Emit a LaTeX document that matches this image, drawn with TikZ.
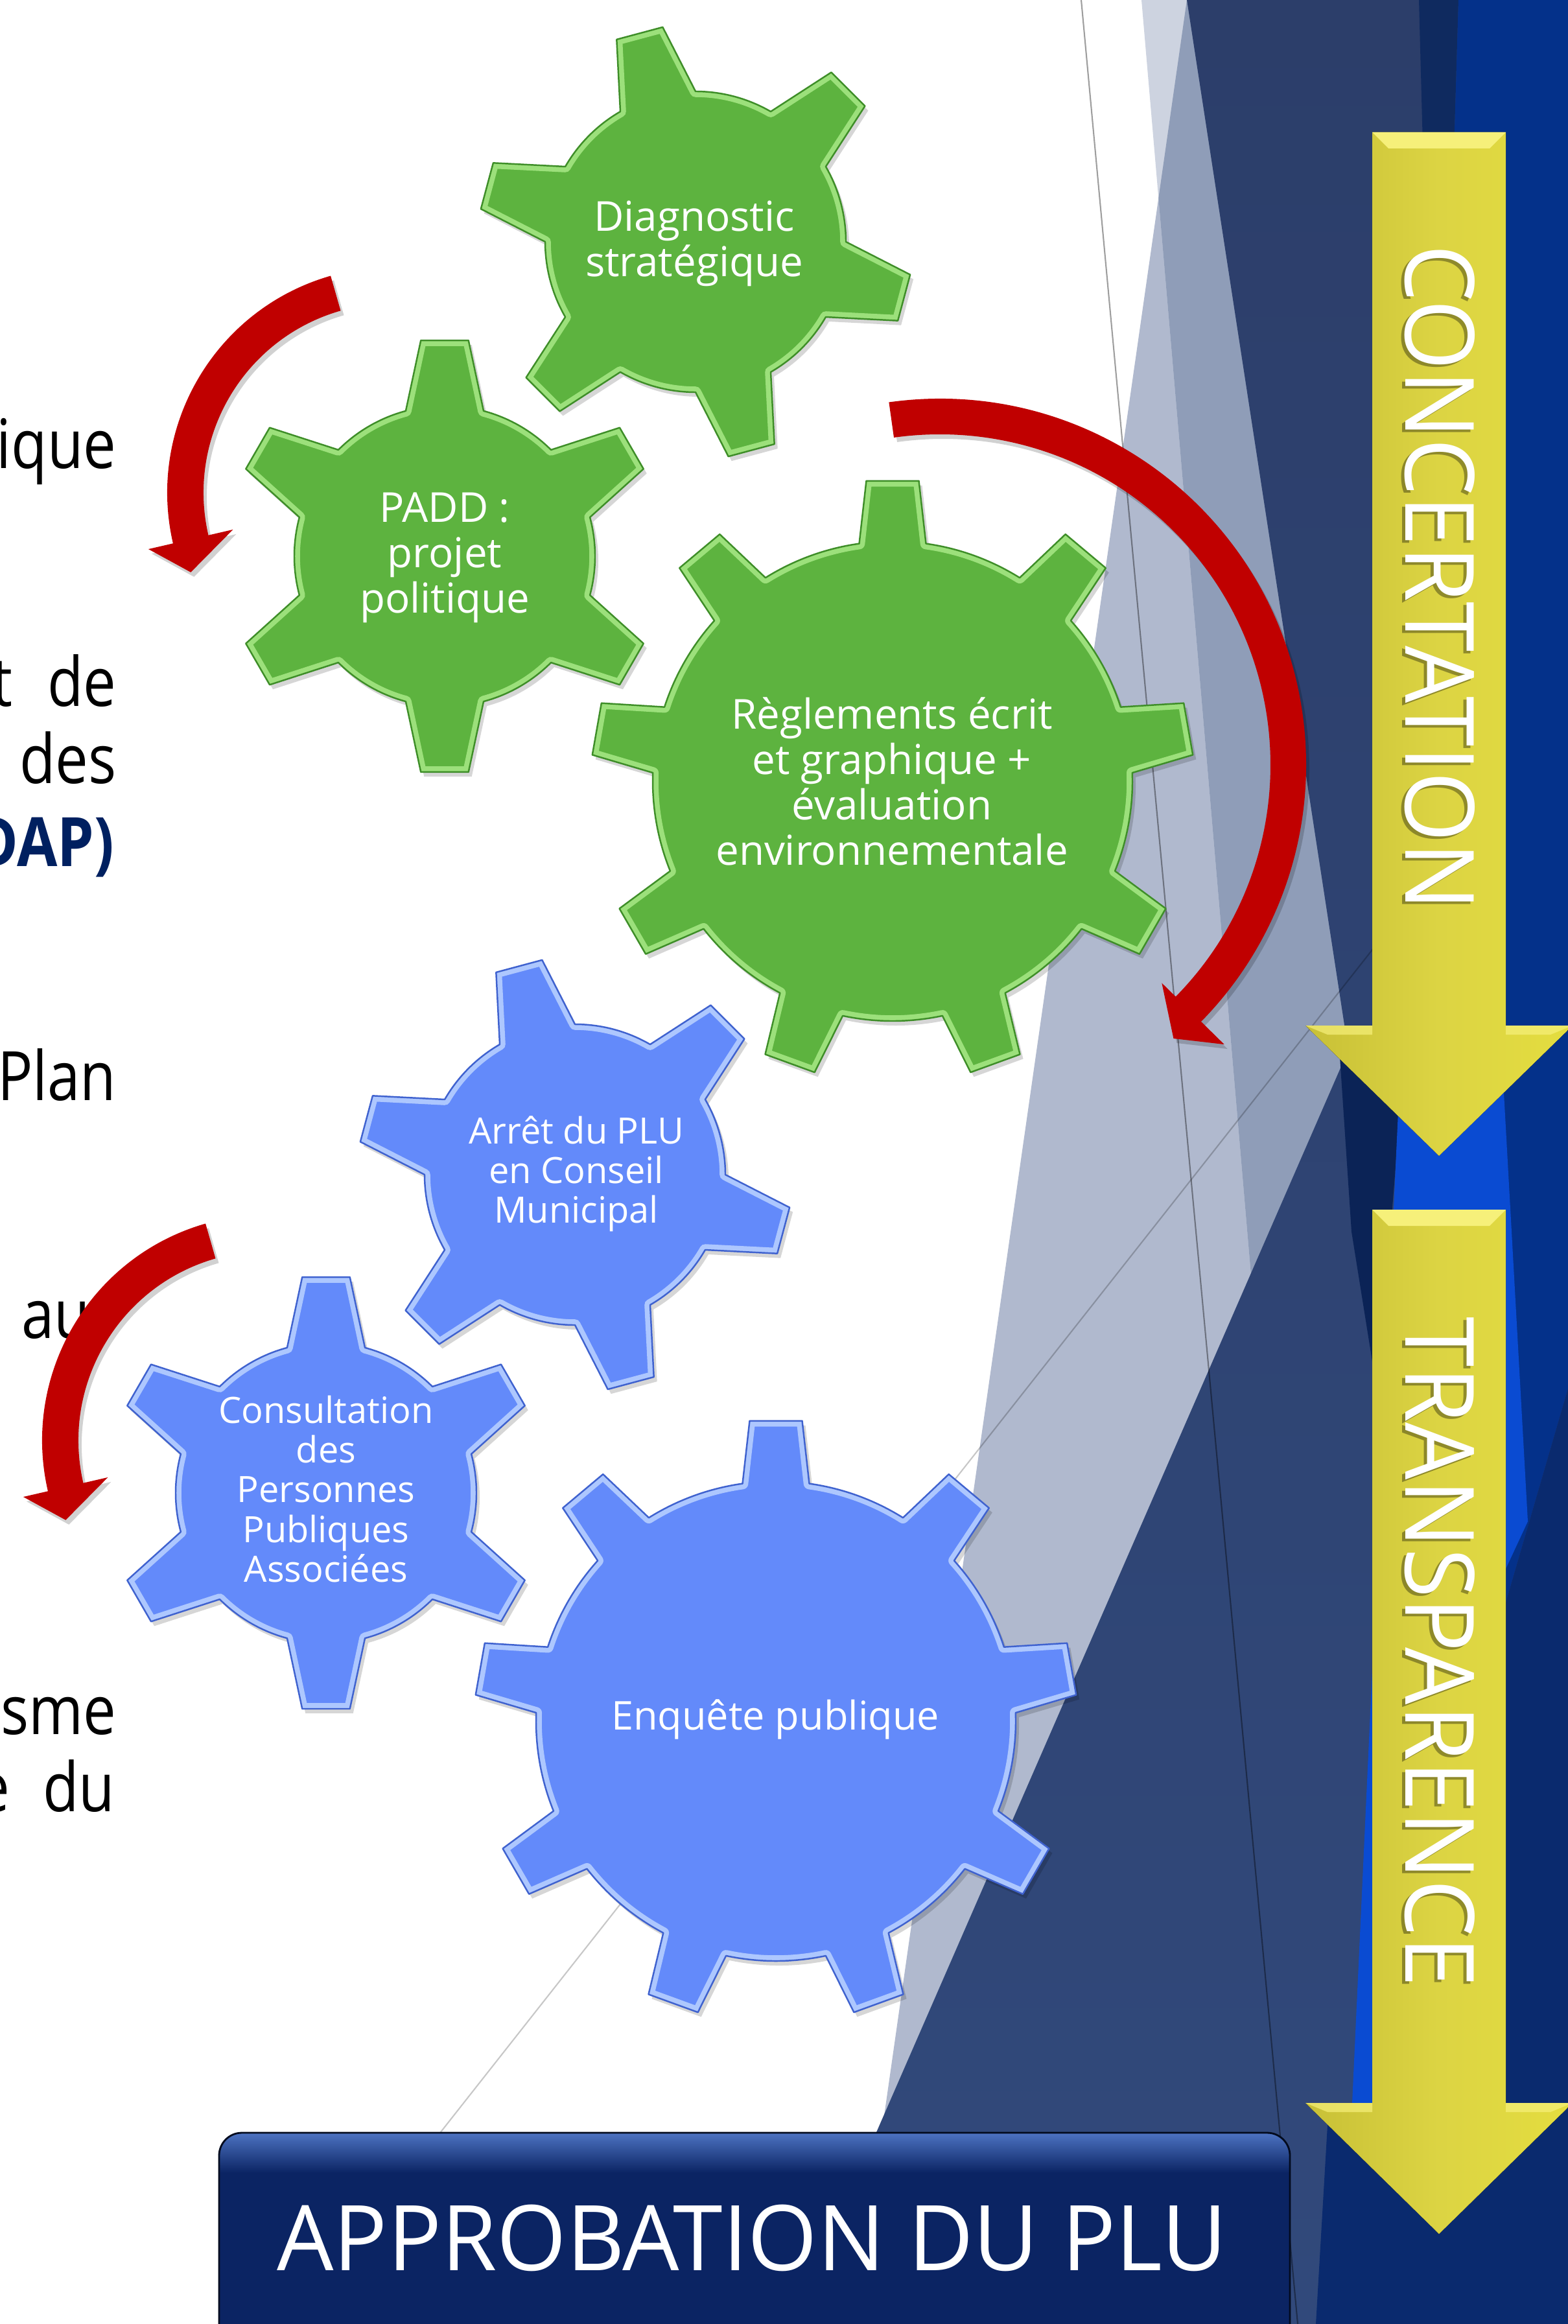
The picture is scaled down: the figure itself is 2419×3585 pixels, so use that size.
\documentclass[tikz,border=0pt]{standalone}
\usepackage{fontspec}
\setmainfont{Open Sans}
\usetikzlibrary{calc}

% palette
\definecolor{bgA}{HTML}{B0B9CE}
\definecolor{bgB}{HTML}{CDD3E0}
\definecolor{bgAB}{HTML}{8F9DB8}
\definecolor{navyTop}{HTML}{2C3E6A}
\definecolor{navyLow}{HTML}{31497B}
\definecolor{stripDark}{HTML}{0F2A5F}
\definecolor{blueR}{HTML}{04318A}
\definecolor{navyDeep}{HTML}{0B2356}
\definecolor{blueBright}{HTML}{0A4BD2}
\definecolor{blueLow}{HTML}{0A2A6E}
\definecolor{greenFill}{HTML}{5DB33F}
\definecolor{greenRim}{HTML}{A8E886}
\definecolor{greenEdge}{HTML}{3E8E28}
\definecolor{blueFill}{HTML}{638AFA}
\definecolor{blueRim}{HTML}{BBD2FF}
\definecolor{blueEdge}{HTML}{3F62CF}
\definecolor{arrowRed}{HTML}{C00000}
\definecolor{yelMid}{HTML}{DCD443}
\definecolor{yelLeft}{HTML}{C8C036}
\definecolor{yelRight}{HTML}{E4DD3F}
\definecolor{yelHi}{HTML}{F6F07A}
\definecolor{titleNavy}{HTML}{0B2463}
\definecolor{titleHi}{HTML}{4D73C2}
\definecolor{textNavy}{HTML}{002060}

% outline of a gear: centre, teeth, offset angle, body radius, tip radius,
% half angle of a tooth at its root, half angle at its tip
\newcommand{\gearoutline}[8]{%
  ([shift={(#1,#2)}]#4+#7:#5)
  \foreach \gk [evaluate=\gk as \gA using #4+360*(\gk-1)/#3,
                evaluate=\gk as \gB using #4+360*\gk/#3] in {1,...,#3}{
    arc[start angle=\gA+#7, end angle=\gB-#7, radius=#5]
    -- ([shift={(#1,#2)}]\gB-#8:#6)
    -- ([shift={(#1,#2)}]\gB+#8:#6)
    -- ([shift={(#1,#2)}]\gB+#7:#5)
  } -- cycle}

\newcommand{\drawgear}[9]{%
  \begin{scope}[shift={(5,7)}]
    \fill[gearshadow] \gearoutline{#1}{#2}{#3}{#4}{#5}{#6}{#7}{#8};
  \end{scope}
  \fill[#9fill] \gearoutline{#1}{#2}{#3}{#4}{#5}{#6}{#7}{#8};
  \begin{scope}
    \clip \gearoutline{#1}{#2}{#3}{#4}{#5}{#6}{#7}{#8};
    \draw[#9rim] \gearoutline{#1}{#2}{#3}{#4}{#5}{#6}{#7}{#8};
  \end{scope}
  \draw[#9edge] \gearoutline{#1}{#2}{#3}{#4}{#5}{#6}{#7}{#8};
}
\newcommand{\smallgear}[4]{\drawgear{#1}{#2}{6}{#3}{232}{335}{15}{6.3}{#4}}
\newcommand{\biggear}[4]{\drawgear{#1}{#2}{9}{#3}{370}{465}{8}{5}{#4}}

% curved red arrows
\newcommand{\arrowonepath}{%
  ([shift={(606,760)}]-106:348) arc[start angle=-106, end angle=-193, radius=348]
  -- ([shift={(606,760)}]-193:387) -- ([shift={(606,760)}]-201.5:335)
  -- ([shift={(606,760)}]-193:253) -- ([shift={(606,760)}]-193:292)
  arc[start angle=-193, end angle=-106, radius=292] -- cycle}
\newcommand{\arrowtwopath}{%
  ([shift={(1450,1180)}]-98:565) arc[start angle=-98, end angle=44.5, radius=565]
  -- ([shift={(1450,1180)}]44.5:615) -- ([shift={(1450,1180)}]49.5:555)
  -- ([shift={(1450,1180)}]44.5:480) -- ([shift={(1450,1180)}]44.5:510)
  arc[start angle=44.5, end angle=-98, radius=510] -- cycle}

\tikzset{
  gearshadow/.style={fill=black, opacity=0.16},
  greenfill/.style={fill=greenFill},
  greenrim/.style={draw=greenRim, line width=5pt, opacity=0.85, line join=round},
  greenedge/.style={draw=greenEdge, line width=0.7pt, line join=round},
  bluefill/.style={fill=blueFill},
  bluerim/.style={draw=blueRim, line width=5pt, opacity=0.85, line join=round},
  blueedge/.style={draw=blueEdge, line width=0.7pt, line join=round},
  geartext/.style={text=white, align=center, inner sep=0pt,
    font=\fontsize{18.1}{19.9}\selectfont},
  geartextsmall/.style={text=white, align=center, inner sep=0pt,
    font=\fontsize{15.9}{17.4}\selectfont},
  lefttext/.style={anchor=base east, inner sep=0pt, text=black,
    font=\fontsize{29.9}{36}\selectfont},
  redarrow/.style={fill=arrowRed},
  redshadow/.style={fill=black, opacity=0.18},
  yellowarrow/.style={left color=yelLeft, right color=yelRight, middle color=yelMid},
  arrowtext/.style={text=white, rotate=-90, inner sep=0pt,
    font=\fontsize{42}{50}\selectfont},
  arrowtextshadow/.style={text=black, opacity=0.35, rotate=-90, inner sep=0pt,
    font=\fontsize{42}{50}\selectfont},
  titletext/.style={text=white, inner sep=0pt, font=\fontsize{39.8}{48}\selectfont},
  thinline/.style={draw=black, opacity=0.38, line width=0.6pt},
  thinlinelight/.style={draw=black, opacity=0.22, line width=0.6pt},
}

\begin{document}
\begin{tikzpicture}[x=0.01cm, y=-0.01cm]
\useasboundingbox (0,0) rectangle (2419,3585);
\clip (0,0) rectangle (2419,3585);
\fill[white] (0,0) rectangle (2419,3585);

% ---- facetted backdrop on the right
\fill[bgA] (1831,0) -- (2419,0) -- (2419,3585) -- (1318,3585) -- cycle;
\fill[bgB] (1761,0) -- (2419,0) -- (2419,3585) -- (2069,3585) -- cycle;
\begin{scope}
  \clip (1831,0) -- (2419,0) -- (2419,3585) -- (1318,3585) -- cycle;
  \fill[bgAB] (1761,0) -- (2419,0) -- (2419,3585) -- (2069,3585) -- cycle;
\end{scope}
\shade[top color=navyTop, bottom color=navyLow]
  (1831,0) -- (2419,0) -- (2419,3585) -- (1223,3585) -- (2080,1620) -- cycle;
\fill[stripDark] (2189,0) -- (2250,0) -- (2232,600) -- (2205,600) -- cycle;
\fill[blueR] (2250,0) -- (2419,0) -- (2419,2142) -- (2323,2472) -- (2240,2472) -- (2232,600) -- cycle;
\fill[navyDeep] (2065,1600) -- (2165,1600) -- (2153,1800) -- (2125,2150) -- (2085,1900) -- cycle;
\fill[blueBright] (2160,1650) -- (2318,1650) -- (2357,2347) -- (2323,2420) -- (2323,3244)
  -- (2086,3244) -- (2153,1800) -- cycle;
\fill[blueLow] (2419,2142) -- (2419,3585) -- (2323,3585) -- (2323,2472) -- cycle;
\fill[blueLow] (2050,3244) -- (2323,3244) -- (2323,3585) -- (2030,3585) -- cycle;

% hairlines of the backdrop
\draw[thinline] (1668,0) -- (2002,3585);
\draw[thinlinelight] (2125,1455) -- (679,3290);

% ---- text of the slide, cut by the left edge
\node[lefttext] (t1) at (180,722) {\scalebox{0.86}[1]{ique}};
\node[lefttext] (t2a) at (20,1089) {\scalebox{0.86}[1]{t}};
\node[lefttext] (t2b) at (180,1089) {\scalebox{0.86}[1]{de}};
\node[lefttext] (t3) at (180,1208) {\scalebox{0.86}[1]{des}};
\node[lefttext, text=textNavy, font=\fontsize{29.9}{36}\selectfont\bfseries] (t4) at (177,1336) {\scalebox{0.86}[1]{DAP)}};
\node[lefttext] (t5) at (180,1697) {\scalebox{0.86}[1]{Plan}};
\node[lefttext, anchor=base west] (t6) at (33,2064) {\scalebox{0.86}[1]{au}};
\node[lefttext] (t7) at (180,2675) {\scalebox{0.86}[1]{sme}};
\node[lefttext] (t8a) at (16,2794) {\scalebox{0.86}[1]{e}};
\node[lefttext] (t8b) at (178,2794) {\scalebox{0.86}[1]{du}};

% ---- gears
\smallgear{1073}{373}{15}{green}
\smallgear{686}{858}{30}{green}
\biggear{1377}{1205}{30}{green}
\smallgear{887}{1812}{15}{blue}
\smallgear{503}{2303}{30}{blue}
\biggear{1197}{2655}{30}{blue}

\node[geartext] (diag) at (1071,376) {Diagnostic\\strat\'egique};
\node[geartext] (padd) at (686,860) {PADD :\\projet\\politique};
\node[geartext] (regl) at (1376,1205) {R\`eglements \'ecrit\\et graphique +\\\'evaluation\\environnementale};
\node[geartextsmall] (arret) at (889,1811) {Arr\^et du PLU\\en Conseil\\Municipal};
\node[geartextsmall] (consult) at (503,2297) {Consultation\\des\\Personnes\\Publiques\\Associ\'ees};
\node[geartext, font=\fontsize{17.4}{19}\selectfont] (enq) at (1196,2652) {Enqu\^ete publique};

% ---- curved red arrows
\begin{scope}[shift={(5,7)}]
  \fill[redshadow] \arrowonepath;
  \fill[redshadow] \arrowtwopath;
\end{scope}
\begin{scope}[shift={(-188,1469)}]
  \fill[redshadow] \arrowonepath;
\end{scope}
\fill[redarrow] \arrowonepath;
\fill[redarrow] \arrowtwopath;
\begin{scope}[shift={(-193,1462)}]
  \fill[redarrow] \arrowonepath;
\end{scope}

% ---- yellow arrows
\fill[yellowarrow] (2117,204) -- (2323,204) -- (2323,1582) -- (2426,1582) -- (2220,1783)
  -- (2014,1582) -- (2117,1582) -- cycle;
\fill[yelHi] (2117,204) -- (2323,204) -- (2298,229) -- (2142,229) -- cycle;
\fill[yelHi, opacity=0.7] (2014,1582) -- (2117,1582) -- (2117,1596) -- (2048,1596) -- cycle;
\fill[yelHi, opacity=0.7] (2323,1582) -- (2426,1582) -- (2392,1596) -- (2323,1596) -- cycle;

\fill[yellowarrow] (2117,1866) -- (2323,1866) -- (2323,3244) -- (2426,3244) -- (2220,3446)
  -- (2014,3244) -- (2117,3244) -- cycle;
\fill[yelHi] (2117,1866) -- (2323,1866) -- (2298,1891) -- (2142,1891) -- cycle;
\fill[yelHi, opacity=0.7] (2014,3244) -- (2117,3244) -- (2117,3258) -- (2048,3258) -- cycle;
\fill[yelHi, opacity=0.7] (2323,3244) -- (2426,3244) -- (2392,3258) -- (2323,3258) -- cycle;

\node[arrowtextshadow] (concsh) at (2216,895) {\scalebox{0.945}[1]{CONCERTATION}};
\node[arrowtext] (conc) at (2221,891) {\scalebox{0.945}[1]{CONCERTATION}};
\node[arrowtextshadow] (transh) at (2216,2552) {\scalebox{0.945}[1]{TRANSPARENCE}};
\node[arrowtext] (transp) at (2221,2548) {\scalebox{0.945}[1]{TRANSPARENCE}};

% ---- closing banner
\fill[titleNavy, rounded corners=10pt] (338,3290) rectangle (1990,3700);
\begin{scope}
  \clip[rounded corners=10pt] (338,3290) rectangle (1990,3700);
  \shade[top color=titleHi, bottom color=titleNavy] (338,3290) rectangle (1990,3352);
\end{scope}
\draw[rounded corners=10pt, draw=black!70!titleNavy, line width=0.8pt] (338,3290) rectangle (1990,3700);
\node[titletext] (appro) at (1160,3452) {\scalebox{0.987}[1]{APPROBATION DU PLU}};
\end{tikzpicture}
\end{document}
